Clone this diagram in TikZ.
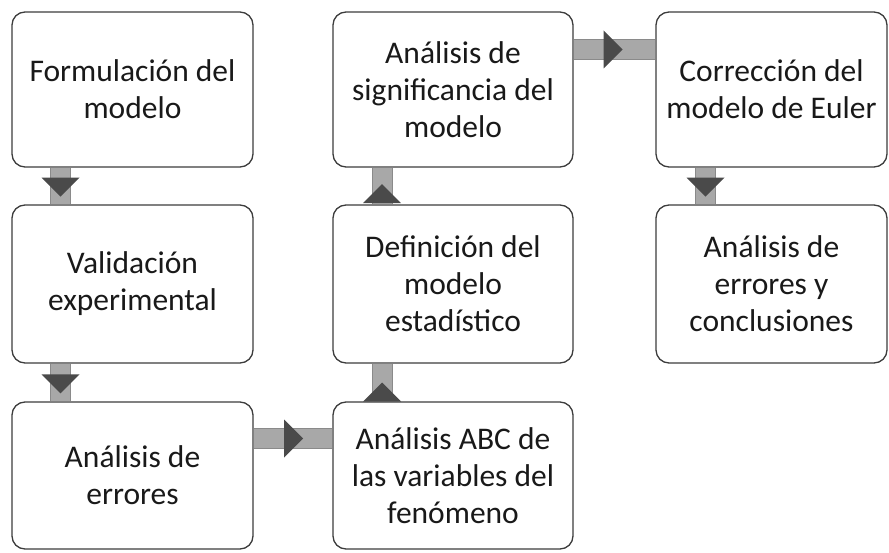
\documentclass[tikz,border=0pt]{standalone}
\usepackage{fontspec}
\setmainfont{Carlito}
\usetikzlibrary{decorations.markings}

\definecolor{boxline}{HTML}{3C3C3C}
\definecolor{shaftfill}{HTML}{A8A8A8}
\definecolor{shaftedge}{HTML}{8A8A8A}
\definecolor{tipgray}{HTML}{4A4A4A}

\begin{document}
\begin{tikzpicture}[x=1pt, y=-1pt,
  stage/.style={draw=boxline, line width=1.3pt, rounded corners=13pt,
    minimum width=241pt, minimum height=155pt, inner sep=0pt,
    align=center, text=black!90, font=\fontsize{31.5}{37}\selectfont},
  flow/.style={draw=shaftedge, line width=1pt, double=shaftfill,
    double distance=19pt, postaction={decorate},
    decoration={markings, mark=at position #1 with
      {\fill[tipgray] (0,0) -- (-19pt,19pt) -- (-19pt,-19pt) -- cycle;}}}]
  \useasboundingbox (0,0) rectangle (889,553);

  % first column
  \node [stage] (form) at (132.5,89.5) {Formulación del\\modelo};
  \node [stage, minimum height=158pt] (valid) at (132.5,284) {Validación\\experimental};
  \node [stage, minimum height=147pt] (errors) at (132.5,475.5) {Análisis de\\errores};

  % second column
  \node [stage, minimum width=240pt] (signif) at (453,89.5) {Análisis de\\significancia del\\modelo};
  \node [stage, minimum width=240pt, minimum height=158pt] (stat) at (453,284) {Definición del\\modelo\\estadístico};
  \node [stage, minimum width=240pt, minimum height=147pt] (abc) at (453,475.5) {Análisis ABC de\\las variables del\\fenómeno};

  % third column
  \node [stage, minimum width=231pt] (euler) at (771.5,89.5) {Corrección del\\modelo de Euler};
  \node [stage, minimum width=231pt, minimum height=158pt] (concl) at (771.5,284) {Análisis de\\errores y\\conclusiones};

  \draw [flow=0.79] ([xshift=-72pt]form.south) -- ([xshift=-72pt]valid.north);
  \draw [flow=0.79] ([xshift=-72pt]valid.south) -- ([xshift=-72pt]errors.north);
  \draw [flow=0.63] ([yshift=37pt]errors.east) -- ([yshift=37pt]abc.west);
  \draw [flow=0.5] ([xshift=-71pt]abc.north) -- ([xshift=-71pt]stat.south);
  \draw [flow=0.55] ([xshift=-71pt]stat.north) -- ([xshift=-71pt]signif.south);
  \draw [flow=0.6] ([yshift=40pt]signif.east) -- ([yshift=40pt]euler.west);
  \draw [flow=0.79] ([xshift=-66pt]euler.south) -- ([xshift=-66pt]concl.north);

\end{tikzpicture}
\end{document}
